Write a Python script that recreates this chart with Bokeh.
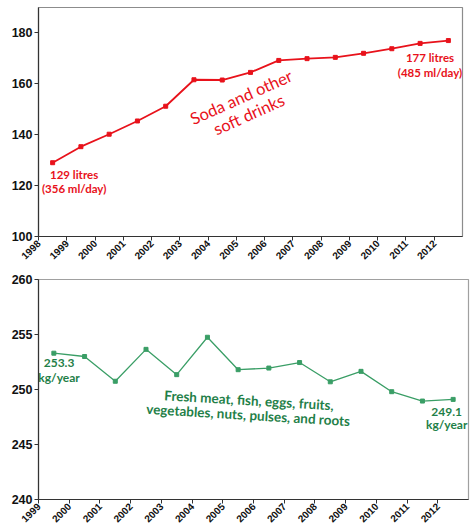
import math
from bokeh.plotting import figure
from bokeh.layouts import column
from bokeh.models import FixedTicker, Range1d
from bokeh.core.properties import value
from bokeh.embed import file_html
from bokeh.resources import INLINE

# ---- data ----
soda_years = [1998, 1999, 2000, 2001, 2002, 2003, 2004, 2005, 2006, 2007, 2008, 2009, 2010, 2011, 2012]
soda_litres = [129, 135.3, 140.2, 145.4, 151.2, 161.6, 161.5, 164.5, 169.2, 169.9, 170.4, 172.0, 173.8, 175.9, 177]

fresh_years = [1999, 2000, 2001, 2002, 2003, 2004, 2005, 2006, 2007, 2008, 2009, 2010, 2011, 2012]
fresh_kg = [253.3, 253.0, 250.75, 253.65, 251.35, 254.75, 251.8, 251.95, 252.45, 250.7, 251.65, 249.8, 248.95, 249.1]

top_xticks = list(range(1998, 2013))
top_yticks = [100, 120, 140, 160, 180]
bot_xticks = list(range(1999, 2013))
bot_yticks = [240, 245, 250, 255, 260]

RED = "#e8121b"
GREEN_LINE = "#3a9e66"
GREEN_TEXT = "#1f8048"

soda_x = [y + 0.5 for y in soda_years]
fresh_x = [y + 0.5 for y in fresh_years]


def style(p, xticks, yticks):
    p.xgrid.visible = False
    p.ygrid.visible = False
    p.outline_line_color = "#8c8c8c"
    p.outline_line_width = 1.2
    p.xaxis.ticker = FixedTicker(ticks=xticks)
    p.yaxis.ticker = FixedTicker(ticks=yticks)
    p.xaxis.major_label_orientation = math.pi / 4
    for ax in (p.xaxis[0], p.yaxis[0]):
        ax.axis_line_color = "#333333"
        ax.axis_line_width = 1.2
        ax.major_tick_line_color = "#333333"
        ax.major_tick_out = 4
        ax.major_tick_in = 0
        ax.minor_tick_out = 0
        ax.minor_tick_in = 0
        ax.major_label_text_font = "Liberation Sans"
        ax.major_label_text_font_style = "bold"
        ax.major_label_text_color = "#111111"
    p.xaxis.major_label_text_font_size = "10px"
    p.yaxis.major_label_text_font_size = "12.5px"
    p.xaxis.major_label_standoff = 1
    p.yaxis.major_label_standoff = 2


# ---- top chart ----
p1 = figure(width=464, height=265, output_backend="svg", toolbar_location=None,
            x_range=Range1d(1998, 2013), y_range=Range1d(100, 190),
            min_border_top=7, min_border_bottom=28, min_border_left=24, min_border_right=2)
style(p1, top_xticks, top_yticks)
p1.line(soda_x, soda_litres, line_color=RED, line_width=1.8)
p1.scatter(soda_x, soda_litres, marker="square", size=4, color=RED)

p1.text(x=[2005.31], y=[151.3], text=["Soda and other\nsoft drinks"], angle=0.42,
        text_font=value("Lato"), text_font_size="16.5px", text_color=RED,
        text_align="center", text_baseline="middle", text_line_height=0.95)
p1.text(x=[soda_x[0] + 0.76], y=[121.5], text=[f"{soda_litres[0]:.0f} litres\n(356 ml/day)"],
        text_font=value("Lato"), text_font_style="bold", text_font_size="11.5px", text_color=RED,
        text_align="center", text_baseline="middle", text_line_height=1.1)
p1.text(x=[soda_x[-1] - 0.65], y=[167.4], text=[f"{soda_litres[-1]:.0f} litres\n(485 ml/day)"],
        text_font=value("Lato"), text_font_style="bold", text_font_size="11.5px", text_color=RED,
        text_align="center", text_baseline="middle", text_line_height=1.1)

# ---- bottom chart ----
p2 = figure(width=470, height=263, output_backend="svg", toolbar_location=None,
            x_range=Range1d(1999, 2013), y_range=Range1d(240, 260),
            min_border_top=14, min_border_bottom=28, min_border_left=38, min_border_right=2)
style(p2, bot_xticks, bot_yticks)
p2.outline_line_color = "#a0a0a0"
p2.line(fresh_x, fresh_kg, line_color=GREEN_LINE, line_width=1.3)
p2.scatter(fresh_x, fresh_kg, marker="square", size=4, color=GREEN_LINE)

p2.text(x=[2005.84], y=[248.35], text=["Fresh meat, fish, eggs, fruits,\nvegetables, nuts, pulses, and roots"],
        angle=-0.06, text_font=value("Lato"), text_font_style="bold", text_font_size="13.5px",
        text_color=GREEN_TEXT, text_align="center", text_baseline="middle", text_line_height=0.92)
p2.text(x=[fresh_x[0] + 0.17], y=[251.77], text=[f"{fresh_kg[0]:.1f}\nkg/year"],
        text_font=value("Lato"), text_font_style="bold", text_font_size="12px", text_color=GREEN_TEXT,
        text_align="center", text_baseline="middle", text_line_height=0.95)
p2.text(x=[fresh_x[-1] - 0.21], y=[247.43], text=[f"{fresh_kg[-1]:.1f}\nkg/year"],
        text_font=value("Lato"), text_font_style="bold", text_font_size="12px", text_color=GREEN_TEXT,
        text_align="center", text_baseline="middle", text_line_height=0.9)

layout = column(p1, p2, spacing=0)
open("out.html", "w").write(file_html(layout, INLINE))
